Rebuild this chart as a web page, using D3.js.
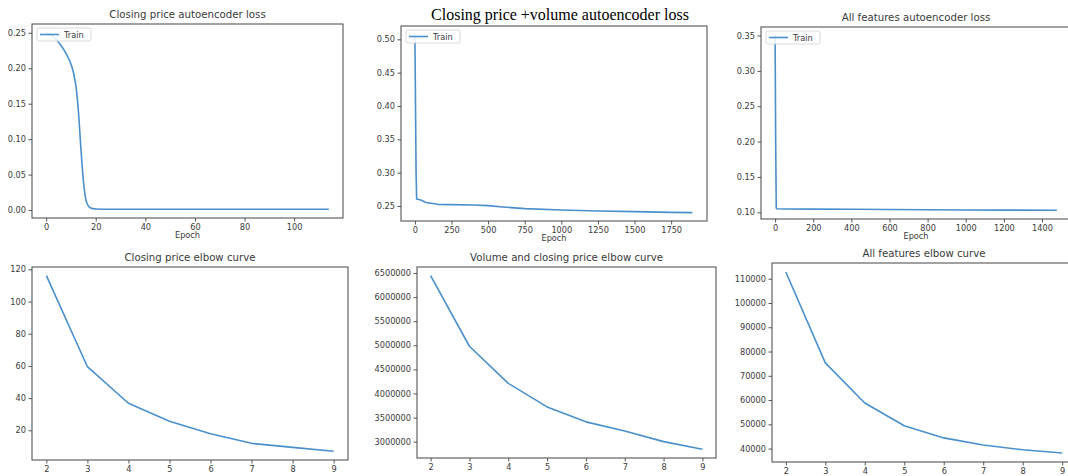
<!DOCTYPE html>
<html>
<head>
<meta charset="utf-8">
<script src="https://cdn.jsdelivr.net/npm/d3@7"></script>
<style>
  html, body { margin: 0; padding: 0; background: #fff; }
  svg text { font-family: "DejaVu Sans", sans-serif; }
</style>
</head>
<body>
<div id="chart"></div>
<script>
// ===== data =====

// closing price autoencoder loss
const closeEpochs = [0, 2, 4, 6, 8, 10, 11, 12, 13, 14, 15, 16, 17, 18, 19, 20, 25, 40, 70, 100, 114];
const closeLoss = [0.250, 0.247, 0.241, 0.232, 0.221, 0.206, 0.194, 0.175, 0.140, 0.088, 0.042, 0.015,
                   0.006, 0.003, 0.002, 0.0015, 0.0012, 0.0012, 0.0012, 0.0012, 0.0012];

// closing price + volume autoencoder loss
const volEpochs = [0, 8, 12, 40, 75, 155, 250, 400, 500, 600, 750, 1000, 1250, 1500, 1750, 1895];
const volLoss = [0.507, 0.300, 0.2605, 0.259, 0.2553, 0.2525, 0.252, 0.2515, 0.2505, 0.2485,
                 0.246, 0.244, 0.2425, 0.2415, 0.2405, 0.2400];

// all features autoencoder loss
const allEpochs = [0, 3, 6, 10, 50, 200, 400, 600, 800, 1000, 1200, 1478];
const allLoss = [0.350, 0.200, 0.106, 0.1050, 0.1048, 0.1046, 0.1043, 0.1040, 0.1037, 0.1034, 0.1032, 0.1030];

// elbow curves
const clusterK = [2, 3, 4, 5, 6, 7, 8, 9];
const closeElbow = [116.1, 59.5, 36.8, 25.6, 17.8, 11.9, 9.4, 7.0];
const volElbow = [6445000, 4980000, 4210000, 3720000, 3410000, 3220000, 3000000, 2840000];
const allElbow = [112750, 75300, 58800, 49400, 44400, 41500, 39500, 38200];

// tick labels
const closeLossXTicks = [0, 20, 40, 60, 80, 100];
const closeLossYTicks = [0.00, 0.05, 0.10, 0.15, 0.20, 0.25];
const volLossXTicks = [0, 250, 500, 750, 1000, 1250, 1500, 1750];
const volLossYTicks = [0.25, 0.30, 0.35, 0.40, 0.45, 0.50];
const allLossXTicks = [0, 200, 400, 600, 800, 1000, 1200, 1400];
const allLossYTicks = [0.10, 0.15, 0.20, 0.25, 0.30, 0.35];
const closeElbowYTicks = [20, 40, 60, 80, 100, 120];
const volElbowYTicks = [3000000, 3500000, 4000000, 4500000, 5000000, 5500000, 6000000, 6500000];
const allElbowYTicks = [40000, 50000, 60000, 70000, 80000, 90000, 100000, 110000];

const W = 1068, H = 476;
const LINE_COLOR = '#4a90cc';
const INK = '#444';
const TEXT = '#3a3a3a';

const svg = d3.select('#chart').append('svg')
    .attr('width', W)
    .attr('height', H);

svg.append('rect').attr('width', W).attr('height', H).attr('fill', '#fff');

function drawPanel(p) {
    const [x0, y0, x1, y1] = p.box;
    const g = svg.append('g');

    const x = d3.scaleLinear().domain(p.xDomain).range([x0, x1]);
    const y = d3.scaleLinear().domain(p.yDomain).range([y1, y0]);

    // clip so lines stay inside the frame
    const clipId = 'clip-' + p.id;
    svg.append('clipPath').attr('id', clipId)
        .append('rect').attr('x', x0).attr('y', y0).attr('width', x1 - x0).attr('height', y1 - y0);

    // axes
    const xAxis = d3.axisBottom(x).tickValues(p.xTicks).tickSize(3.5).tickSizeOuter(0).tickPadding(2.5)
        .tickFormat(d3.format('d'));
    const yAxis = d3.axisLeft(y).tickValues(p.yTicks).tickSize(3.5).tickSizeOuter(0).tickPadding(2.5)
        .tickFormat(p.yFormat);

    const gx = g.append('g').attr('transform', `translate(0,${y1})`).call(xAxis);
    const gy = g.append('g').attr('transform', `translate(${x0},0)`).call(yAxis);
    [gx, gy].forEach(a => {
        a.select('.domain').remove();
        a.selectAll('line').attr('stroke', INK).attr('stroke-width', 0.9);
        a.selectAll('text')
            .style('fill', TEXT)
            .style('font-family', '"DejaVu Sans", sans-serif')
            .style('font-size', '8.2px');
    });

    // data line
    const line = d3.line()
        .x((d, i) => x(p.xs[i]))
        .y(d => y(d))
        .curve(p.curve || d3.curveLinear);

    g.append('path')
        .datum(p.ys)
        .attr('clip-path', `url(#${clipId})`)
        .attr('fill', 'none')
        .attr('stroke', LINE_COLOR)
        .attr('stroke-width', 1.6)
        .attr('stroke-linejoin', 'round')
        .attr('d', line);

    // frame
    g.append('rect')
        .attr('x', x0).attr('y', y0)
        .attr('width', x1 - x0).attr('height', y1 - y0)
        .attr('fill', 'none')
        .attr('stroke', INK)
        .attr('stroke-width', 1);

    // title
    const title = g.append('text')
        .attr('x', p.titleX !== undefined ? p.titleX : (x0 + x1) / 2)
        .attr('y', y0 - 6)
        .attr('text-anchor', 'middle')
        .style('fill', TEXT)
        .text(p.title);
    if (p.serifTitle) {
        // this one was pasted in as a Times caption
        title.style('font-family', '"Liberation Serif", "Times New Roman", serif')
            .style('font-size', '16px').style('fill', '#000').attr('y', 19.5);
    } else {
        title.style('font-size', '10.2px');
    }

    // x label
    if (p.xLabel) {
        g.append('text')
            .attr('x', (x0 + x1) / 2)
            .attr('y', y1 + 20)
            .attr('text-anchor', 'middle')
            .style('fill', TEXT)
            .style('font-size', '8.2px')
            .text(p.xLabel);
    }

    // legend
    if (p.legend) {
        const lx = x0 + 5, ly = y0 + 4;
        g.append('rect')
            .attr('x', lx).attr('y', ly)
            .attr('width', 54).attr('height', 13)
            .attr('rx', 2)
            .attr('fill', '#fff').attr('fill-opacity', 0.85)
            .attr('stroke', '#d0d0d0').attr('stroke-width', 0.8);
        g.append('line')
            .attr('x1', lx + 3).attr('x2', lx + 22)
            .attr('y1', ly + 6.5).attr('y2', ly + 6.5)
            .attr('stroke', LINE_COLOR).attr('stroke-width', 1.6);
        g.append('text')
            .attr('x', lx + 27).attr('y', ly + 9.5)
            .style('fill', TEXT)
            .style('font-size', '8.2px')
            .text(p.legend);
    }
}

const fmt2 = d3.format('.2f');
const fmtInt = d3.format('d');

// top row: autoencoder loss
drawPanel({
    id: 'p1', box: [32, 24, 343, 218],
    xDomain: [-5.7, 119.7], yDomain: [-0.0112, 0.2624],
    xs: closeEpochs, ys: closeLoss, curve: d3.curveMonotoneX,
    xTicks: closeLossXTicks, yTicks: closeLossYTicks, yFormat: fmt2,
    title: 'Closing price autoencoder loss', xLabel: 'Epoch', legend: 'Train'
});
drawPanel({
    id: 'p2', box: [401, 26, 707, 221],
    xDomain: [-95, 1995], yDomain: [0.2275, 0.52],
    xs: volEpochs, ys: volLoss,
    xTicks: volLossXTicks, yTicks: volLossYTicks, yFormat: fmt2,
    title: 'Closing price +volume autoencoder loss', serifTitle: true, titleX: 560,
    xLabel: 'Epoch', legend: 'Train'
});
drawPanel({
    id: 'p3', box: [761, 27, 1071, 219],
    xDomain: [-74, 1552], yDomain: [0.0906, 0.362],
    xs: allEpochs, ys: allLoss,
    xTicks: allLossXTicks, yTicks: allLossYTicks, yFormat: fmt2,
    title: 'All features autoencoder loss', xLabel: 'Epoch', legend: 'Train'
});

// bottom row: elbow curves
drawPanel({
    id: 'p4', box: [32, 267, 348, 460],
    xDomain: [1.65, 9.35], yDomain: [1.55, 121.45],
    xs: clusterK, ys: closeElbow,
    xTicks: clusterK, yTicks: closeElbowYTicks, yFormat: fmtInt,
    title: 'Closing price elbow curve'
});
drawPanel({
    id: 'p5', box: [417, 267, 716, 458],
    xDomain: [1.65, 9.35], yDomain: [2660000, 6625000],
    xs: clusterK, ys: volElbow,
    xTicks: clusterK, yTicks: volElbowYTicks, yFormat: fmtInt,
    title: 'Volume and closing price elbow curve'
});
drawPanel({
    id: 'p6', box: [772, 263, 1076, 462],
    xDomain: [1.65, 9.35], yDomain: [34470, 116480],
    xs: clusterK, ys: allElbow,
    xTicks: clusterK, yTicks: allElbowYTicks, yFormat: fmtInt,
    title: 'All features elbow curve'
});
</script>
</body>
</html>
